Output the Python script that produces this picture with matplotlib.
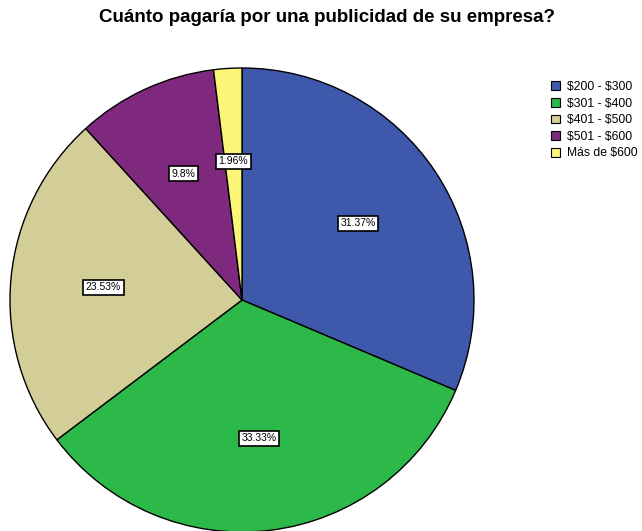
import matplotlib
matplotlib.use("Agg")
import matplotlib.pyplot as plt

title = "Cuánto pagaría por una publicidad de su empresa?"
categories = ["$200 - $300", "$301 - $400", "$401 - $500", "$501 - $600", "Más de $600"]
percents = [31.37, 33.33, 23.53, 9.80, 1.96]
pct_labels = ["31.37%", "33.33%", "23.53%", "9.8%", "1.96%"]
colors = ["#3e58ac", "#2db84a", "#d3ce97", "#7e287e", "#fbf677"]

plt.rcParams["font.family"] = ["Liberation Sans", "DejaVu Sans"]
plt.rcParams["text.parse_math"] = False

W, H = 642, 531
fig = plt.figure(figsize=(W / 100, H / 100), dpi=100)
# pie centre ~ (242, 300) px, radius ~232 px
cx, cy, r = 242, 300, 232
ax = fig.add_axes([(cx - r) / W, (H - cy - r) / H, 2 * r / W, 2 * r / H])

wedges, texts, autotexts = ax.pie(
    percents, colors=colors, startangle=90, counterclock=False,
    autopct="%1.2f", pctdistance=0.6,
    wedgeprops=dict(edgecolor="black", linewidth=1.0))
for t, lab in zip(autotexts, pct_labels):
    t.set_text(lab)
    t.set_fontsize(7.5)
    t.set_bbox(dict(facecolor="white", edgecolor="black", linewidth=1.2, pad=1.8))
ax.set_xlim(-1, 1); ax.set_ylim(-1, 1)
ax.set_aspect("equal")

fig.text(327 / W, 1 - 17 / H, title, ha="center", va="center", fontsize=13.5, fontweight="bold")

leg = fig.legend(wedges, categories, loc="upper left", bbox_to_anchor=(545 / W, 1 - 75 / H),
                 frameon=False, fontsize=8.7, handlelength=0.75, handleheight=0.75,
                 handletextpad=0.55, labelspacing=0.38, borderpad=0)
for hnd in leg.legend_handles:
    hnd.set_linewidth(0.8)

fig.savefig("out.png", dpi=100)
